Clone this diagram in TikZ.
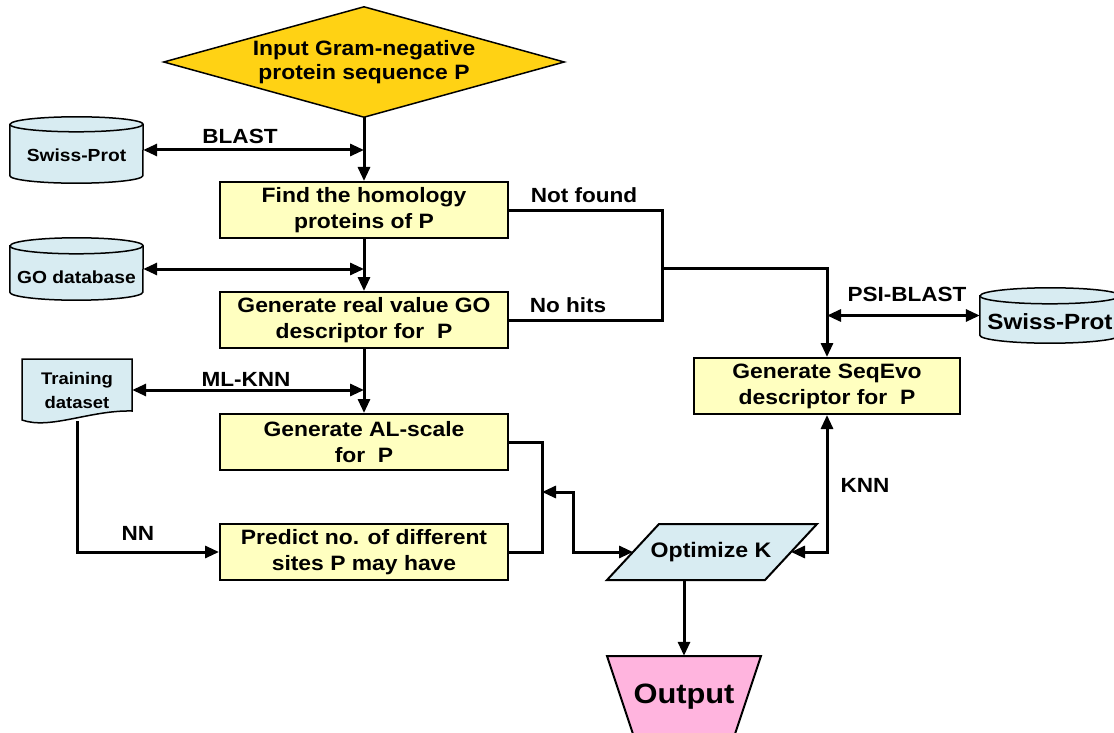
\documentclass[tikz,border=0pt]{standalone}
\usepackage{fontspec}
\setmainfont{Liberation Sans}[FakeStretch=1.1]
\usetikzlibrary{arrows.meta,backgrounds}
\definecolor{gold}{RGB}{255,210,20}
\definecolor{boxy}{RGB}{255,255,192}
\definecolor{cylb}{RGB}{216,236,242}
\definecolor{pinkout}{RGB}{255,180,222}
\newcommand\drawcyl[3]{%
 \draw[cylfill] (#1.north west) -- (#1.south west) arc[start angle=180,end angle=360,x radius=#2pt,y radius=#3pt] -- (#1.north east) arc[start angle=0,end angle=180,x radius=#2pt,y radius=#3pt] -- cycle;
 \draw[line width=1.5] (#1.north west) arc[start angle=180,end angle=360,x radius=#2pt,y radius=#3pt];}
\begin{document}
\begin{tikzpicture}[x=1pt,y=-1pt,
  pbox/.style={draw, line width=2, fill=boxy, minimum width=288, minimum height=56, inner sep=0, align=center, font=\fontsize{20.8}{26}\selectfont\bfseries},
  cylnode/.style={inner sep=0, align=center},
  cylfill/.style={draw, line width=1.5, fill=cylb},
  lab/.style={font=\fontsize{20.5}{22}\selectfont\bfseries, inner sep=0},
  conn/.style={line width=3, -{Triangle[length=14,width=12]}},
  both/.style={line width=3, {Triangle[length=14,width=12]}-{Triangle[length=14,width=12]}},
  wire/.style={line width=3},
]
\useasboundingbox (0,0) rectangle (1114,733);

% main nodes
\node[minimum width=400, minimum height=110, inner sep=0, align=center, font=\fontsize{20.8}{24}\selectfont\bfseries] (in) at (364,62) {Input Gram-negative\\protein sequence P};
\node[pbox] (find) at (364,210) {Find the homology\\proteins of P};
\node[pbox] (go) at (364,320) {Generate real value GO\\descriptor for\ \ P};
\node[pbox] (al) at (364,442) {Generate AL-scale\\for\ \ P};
\node[pbox] (pred) at (364,552) {Predict no. of different\\sites P may have};
\node[pbox, minimum width=266] (seq) at (827,386) {Generate SeqEvo\\descriptor for\ \ P};
\node[inner sep=0, font=\fontsize{21}{24}\selectfont\bfseries] (opt) at (711,552) {Optimize K};
\node[inner sep=0, minimum width=100, minimum height=82, font=\fontsize{28}{30}\selectfont\bfseries] (out) at (684,697) {Output};
\coordinate (optL) at (633,552);
\coordinate (optR) at (791,552);
\coordinate (optB) at (684,580);

% databases
\node[cylnode, minimum width=133, minimum height=51, text height=22.5pt, text depth=0pt, font=\fontsize{17.5}{20}\selectfont\bfseries] (sp1) at (76.5,150) {Swiss-Prot};
\node[cylnode, minimum width=133, minimum height=46, text height=28.5pt, text depth=0pt, font=\fontsize{17.5}{20}\selectfont\bfseries] (godb) at (76.5,269) {GO database};
\node[cylnode, minimum width=140, minimum height=39, text height=28.8pt, text depth=0pt, font=\fontsize{22}{24}\selectfont\bfseries] (sp2) at (1050,315.5) {Swiss-Prot};
\node[cylnode, minimum width=110, minimum height=62, font=\fontsize{16.8}{24}\selectfont\bfseries] (train) at (77,390) {Training\\dataset};

\begin{scope}[on background layer]
 \draw[line width=1.5, fill=gold] (in.west) -- (in.north) -- (in.east) -- (in.south) -- cycle;
 \drawcyl{sp1}{66.5}{7.5}
 \drawcyl{godb}{66.5}{8}
 \drawcyl{sp2}{70}{8}
 \draw[cylfill] (22,359) -- (132,359) -- (132,411) .. controls (90,410) and (50,430) .. (22,420) -- cycle;
 \draw[line width=2, fill=cylb] (659,524) -- (817,524) -- (765,580) -- (607,580) -- cycle;
 \draw[line width=2, fill=pinkout] (607,656) -- (761,656) -- (728,755) -- (640,755) -- cycle;
\end{scope}

% labels
\node[lab] (lblast) at (240,136) {BLAST};
\node[lab] (lmlknn) at (246,379) {ML-KNN};
\node[lab] (lnn) at (138,533) {NN};
\node[lab] (lnf) at (584,195) {Not found};
\node[lab] (lnh) at (568,305) {No hits};
\node[lab] (lpsi) at (907,294) {PSI-BLAST};
\node[lab] (lknn) at (865,485) {KNN};

% helper points
\coordinate (brk) at (542,492);
\coordinate (hub) at (573,492);
\coordinate (nf) at (662,268);

% connectors
\draw[conn] (in.south) -- (find.north);
\draw[both] (sp1.east) -- (sp1.east -| find.north);
\draw[conn] (find.south) -- (go.north);
\draw[both] (godb.east) -- (godb.east -| find.north);
\draw[conn] (go.south) -- (al.north);
\draw[both] (train.east) -- (train.east -| go.south);
\draw[conn] (train.south) |- (pred.west);
\draw[wire] (al.east) -- (al.east -| brk) -- (pred.east -| brk) -- (pred.east);
\draw[both] (brk) -- (hub) |- (optL);
\draw[wire] (find.east) -| (nf);
\draw[wire] (go.east) -| (nf);
\draw[conn] (nf) -| (seq.north);
\draw[both] (seq.north |- sp2.west) -- (sp2.west);
\draw[both] (optR) -| (seq.south);
\draw[conn] (optB) -- (optB |- out.north);
\end{tikzpicture}
\end{document}
